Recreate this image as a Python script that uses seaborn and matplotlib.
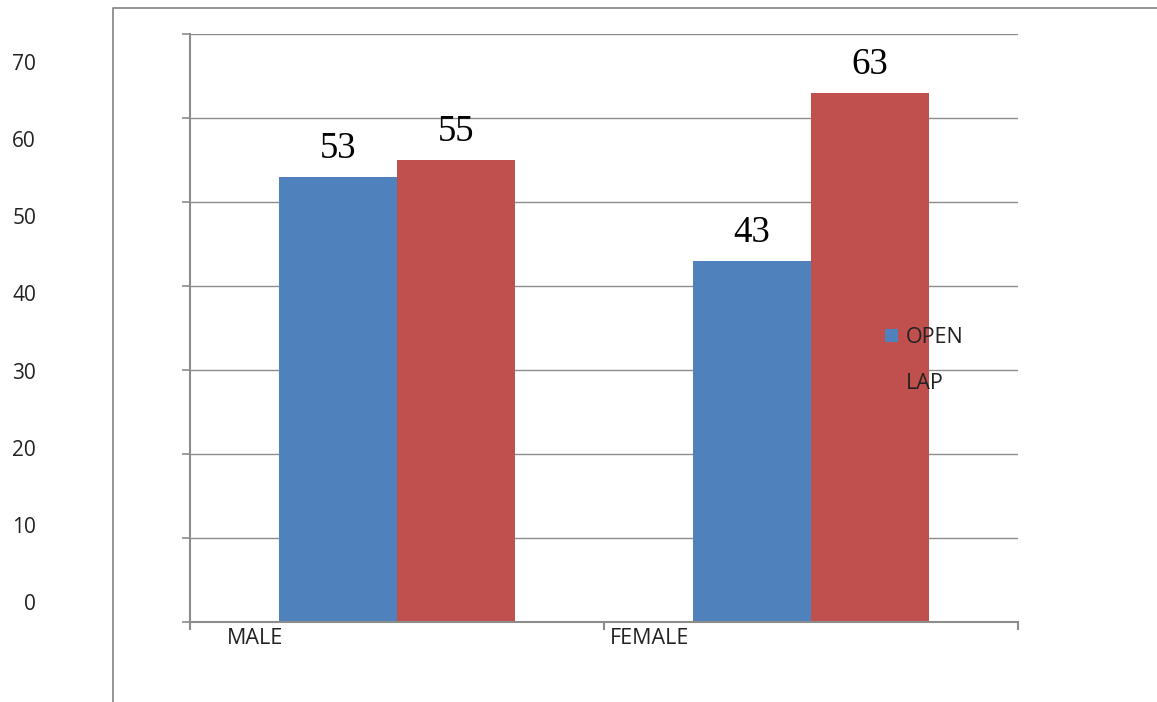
import matplotlib
matplotlib.use("Agg")
import matplotlib.pyplot as plt
from matplotlib.lines import Line2D
import seaborn as sns
import pandas as pd

# Chart data
groups = ["MALE", "FEMALE"]
methods = ["OPEN", "LAP"]
open_vals = [53, 43]
lap_vals = [55, 63]
y_ticks = [0, 10, 20, 30, 40, 50, 60, 70]

palette = {"OPEN": "#4F81BD", "LAP": "#C0504D"}
grid_col = "#8c8c8c"

df = pd.DataFrame({
    "group": groups * 2,
    "method": ["OPEN"] * len(groups) + ["LAP"] * len(groups),
    "value": open_vals + lap_vals,
})

sns.set_style("white")
plt.rcParams["font.family"] = ["Open Sans", "DejaVu Sans"]

W, H = 1157, 702
fig = plt.figure(figsize=(W / 100, H / 100), dpi=100)

# main plotting area
ax = fig.add_axes([190 / W, (H - 622) / H, 828 / W, 588 / H])
sns.barplot(data=df, x="group", y="value", hue="method", order=groups,
            hue_order=methods, palette=palette, width=0.572, linewidth=0,
            saturation=1, ax=ax, legend=True)
ax.set_ylim(0, 70)
ax.set_xlim(-0.5, 1.5)
ax.set_xlabel("")
ax.set_ylabel("")

# gridlines and axis styling
ax.set_yticks(y_ticks)
ax.yaxis.grid(True, color=grid_col, linewidth=1.0)
ax.set_axisbelow(True)
ax.tick_params(axis="y", which="major", left=True, length=6, width=1.2,
               color=grid_col, labelleft=False, direction="out")
for side in ["top", "right"]:
    ax.spines[side].set_visible(False)
for side in ["left", "bottom"]:
    ax.spines[side].set_color(grid_col)
    ax.spines[side].set_linewidth(1.5)

# category separators as minor ticks, labels on major ticks
ax.set_xticks([-0.5, 0.5, 1.5], minor=True)
ax.tick_params(axis="x", which="minor", bottom=True, length=6, width=1.5,
               color=grid_col, direction="out")
ax.set_xticks([-0.41, 0.515])
ax.set_xticklabels(groups, fontsize=15.5, color="#222222", ha="left")
ax.tick_params(axis="x", which="major", length=0, pad=4)

# value labels above each bar
for cont in ax.containers:
    ax.bar_label(cont, fmt="%d", padding=8, fontsize=26.5,
                 family="Liberation Serif", color="black")

# legend
handles, labels = ax.get_legend_handles_labels()
ax.legend(handles, labels, frameon=False, loc="upper left",
          bbox_to_anchor=(870 / W, 1 - 312 / H), bbox_transform=fig.transFigure,
          fontsize=15.5, handlelength=0.62, handleheight=0.62,
          handletextpad=0.35, labelspacing=1.15, borderpad=0.2,
          labelcolor="#222222")

# value scale along the left side
lab = fig.add_axes([36 / W, (H - 602) / H, 10 / W, 540 / H])
lab.set_ylim(0, 70)
lab.set_yticks(y_ticks)
lab.set_yticklabels([str(v) for v in y_ticks], fontsize=15, color="#222222")
lab.tick_params(axis="y", length=0, pad=0)
lab.set_xticks([])
for s in lab.spines.values():
    s.set_visible(False)
lab.patch.set_alpha(0)

# outer frame line
fig.add_artist(Line2D([113 / W, 113 / W, 1.0], [0.0, 1 - 8 / H, 1 - 8 / H],
                      transform=fig.transFigure, color=grid_col, linewidth=1.3))

fig.savefig("out.png", dpi=100)
